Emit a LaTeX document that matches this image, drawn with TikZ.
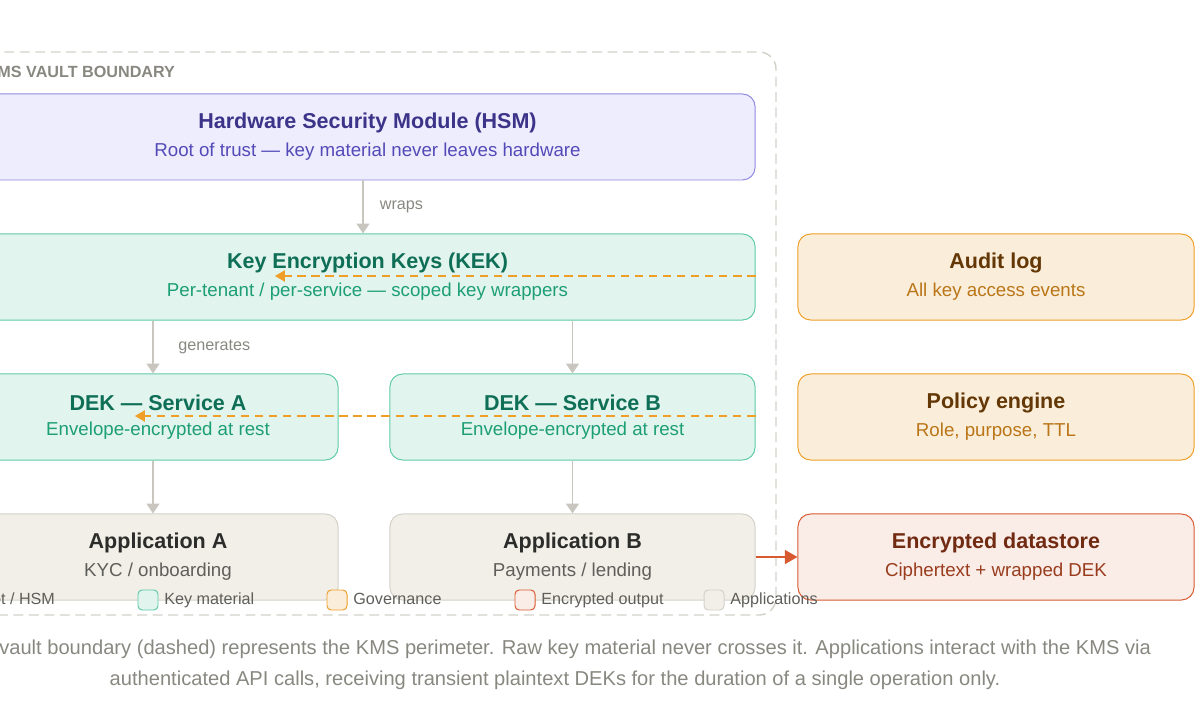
\documentclass[tikz,border=0pt]{standalone}
\usepackage{fontspec}
\setmainfont{Liberation Sans}
\usetikzlibrary{positioning,arrows.meta}
\definecolor{hsmfill}{HTML}{EEEDFE}\definecolor{hsmline}{HTML}{8F89E0}\definecolor{hsmtext}{HTML}{3C3489}\definecolor{hsmsub}{HTML}{534AB7}
\definecolor{keyfill}{HTML}{E1F5EE}\definecolor{keyline}{HTML}{5DCAA5}\definecolor{keytext}{HTML}{0F6E56}\definecolor{keysub}{HTML}{1D9E75}
\definecolor{govfill}{HTML}{FAEEDA}\definecolor{govline}{HTML}{EF9F27}\definecolor{govtext}{HTML}{633806}\definecolor{govsub}{HTML}{BA7517}
\definecolor{encfill}{HTML}{FAECE7}\definecolor{encline}{HTML}{D85A30}\definecolor{enctext}{HTML}{712B13}\definecolor{encsub}{HTML}{993C1D}
\definecolor{appfill}{HTML}{F1EFE8}\definecolor{appline}{HTML}{D3D1C7}\definecolor{apptext}{HTML}{2C2C2A}\definecolor{appsub}{HTML}{5F5E5A}
\definecolor{flow}{HTML}{C8C6BE}\definecolor{note}{HTML}{888780}
\newcommand{\boxtext}[2]{{\fontsize{15.3}{17}\selectfont\bfseries #1}\\[6pt]{\fontsize{13.3}{15}\selectfont #2}}
\begin{document}
\begin{tikzpicture}[x=0.025cm,y=-0.025cm,
  box/.style={draw, rounded corners=9pt, line width=0.7pt, align=center, minimum height=2.15cm, inner sep=0pt},
  wide/.style={box, minimum width=19.375cm},
  half/.style={box, minimum width=9.0cm},
  side/.style={box, minimum width=9.9cm},
  hsm/.style={fill=hsmfill, draw=hsmline, text=hsmtext},
  key/.style={fill=keyfill, draw=keyline, text=keytext},
  gov/.style={fill=govfill, draw=govline, text=govtext},
  enc/.style={fill=encfill, draw=encline, text=enctext},
  app/.style={fill=appfill, draw=appline, text=apptext},
  flowarrow/.style={draw=flow, line width=1.4pt, -{Triangle[length=7pt,width=9pt]}},
  ctrl/.style={draw=govline, line width=1pt, dash pattern=on 6pt off 4pt, -{Triangle[length=7pt,width=8pt]}},
  lbl/.style={font=\fontsize{11.5}{13}\selectfont, text=note},
  swatch/.style={draw, rounded corners=3pt, minimum width=0.5cm, minimum height=0.5cm, inner sep=0pt, line width=0.7pt},
  legtext/.style={font=\fontsize{11.5}{13}\selectfont, text=appsub, anchor=west, inner sep=1pt, text height=8pt, text depth=2pt}]
\useasboundingbox (0,0) rectangle (1200,720);

% Vault boundary
\draw[appline, line width=1pt, dash pattern=on 7pt off 4pt, rounded corners=12pt] (-20,52) rectangle (776,615);
\node[anchor=east, text=note, font=\fontsize{11.5}{13}\selectfont\bfseries] (vault) at (180,72) {KMS VAULT BOUNDARY};

% Key hierarchy
\node[wide, hsm] (hsm) at (367.5,137) {\boxtext{Hardware Security Module (HSM)}{\color{hsmsub}Root of trust — key material never leaves hardware}};
\node[wide, key] (kek) at (367.5,277) {\boxtext{Key Encryption Keys (KEK)}{\color{keysub}Per-tenant / per-service — scoped key wrappers}};
\node[half, key] (deka) at (158,417) {\boxtext{DEK — Service A}{\color{keysub}Envelope-encrypted at rest}};
\node[half, key, minimum width=9.125cm] (dekb) at (572.5,417) {\boxtext{DEK — Service B}{\color{keysub}Envelope-encrypted at rest}};
\node[half, app] (appa) at (158,557) {\boxtext{Application A}{\color{appsub}KYC / onboarding}};
\node[half, app, minimum width=9.125cm] (appb) at (572.5,557) {\boxtext{Application B}{\color{appsub}Payments / lending}};

% Outside the vault
\node[side, gov] (audit) at (996,277) {\boxtext{Audit log}{\color{govsub}All key access events}};
\node[side, gov] (policy) at (996,417) {\boxtext{Policy engine}{\color{govsub}Role, purpose, TTL}};
\node[side, enc] (store) at (996,557) {\boxtext{Encrypted datastore}{\color{encsub}Ciphertext + wrapped DEK}};

% Flows
\draw[flowarrow] (hsm.south -| 363,0) -- (kek.north -| 363,0) node[midway, right=8pt, lbl] {wraps};
\draw[flowarrow] (kek.south -| 153,0) -- (deka.north -| 153,0) node[midway, right=14pt, lbl] {generates};
\draw[flowarrow] (kek.south -| dekb) -- (dekb.north);
\draw[flowarrow] (deka.south -| 153,0) -- (appa.north -| 153,0);
\draw[flowarrow] (dekb) -- (appb);
\draw[draw=encline, line width=1.2pt, -{Triangle[length=9pt,width=10pt]}] (appb.east) -- (store.west);

% Governance flows
\draw[ctrl] (kek.east |- 0,276) -- (275,276);
\draw[ctrl] (dekb.east |- 0,416) -- (135,416);

% Legend
\node[swatch, draw=hsmline, fill=hsmfill] (lhsm) at (-45,600) {};
\node[legtext, right=3pt of lhsm] {Root / HSM};
\node[swatch, draw=keyline, fill=keyfill] (lkey) at (148,600) {};
\node[legtext, right=3pt of lkey] {Key material};
\node[swatch, draw=govline, fill=govfill] (lgov) at (337,600) {};
\node[legtext, right=3pt of lgov] {Governance};
\node[swatch, draw=encline, fill=encfill] (lenc) at (525,600) {};
\node[legtext, right=3pt of lenc] {Encrypted output};
\node[swatch, draw=appline, fill=appfill] (lapp) at (714,600) {};
\node[legtext, right=3pt of lapp] {Applications};

% Caption
\node[text=note, font=\fontsize{14.3}{22}\selectfont, align=center] (caption) at (555,665) {The vault boundary (dashed) represents the KMS perimeter. Raw key material never crosses it. Applications interact with the KMS via\\authenticated API calls, receiving transient plaintext DEKs for the duration of a single operation only.};
\end{tikzpicture}
\end{document}
